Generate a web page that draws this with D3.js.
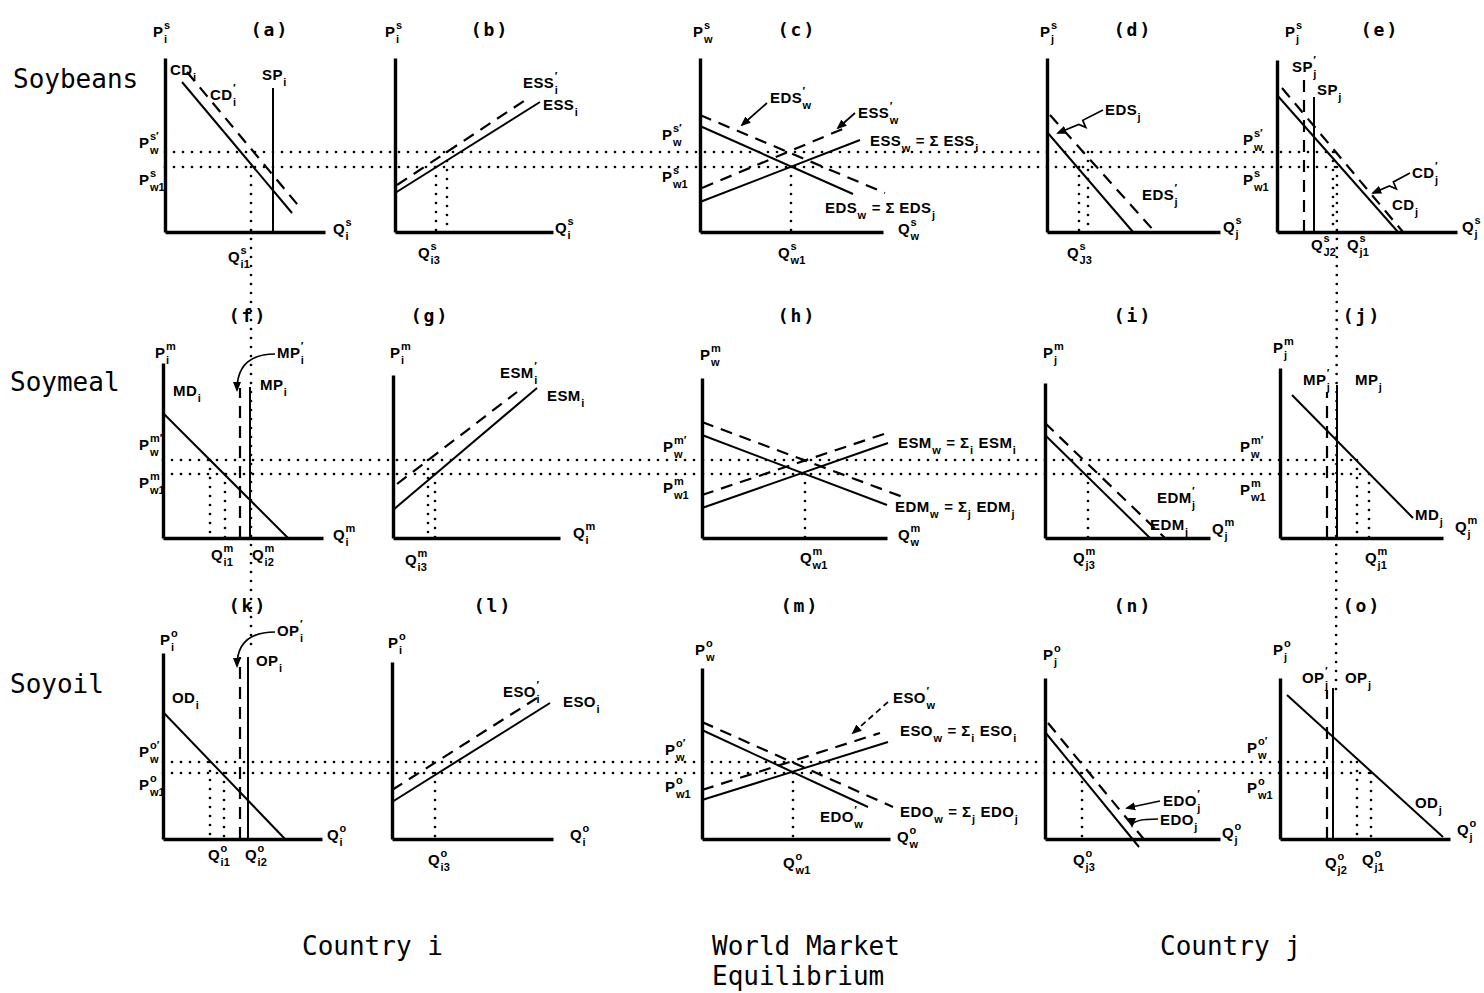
<!DOCTYPE html>
<html><head><meta charset="utf-8">
<script src="https://cdn.jsdelivr.net/npm/d3@7"></script>
<style>
body{margin:0;background:#fff}
svg{display:block;background:#fff}
.lab{font:bold 15px 'Liberation Sans',Arial,sans-serif;white-space:pre;fill:#000;letter-spacing:0.4px}
.scr{font:bold 11px 'Liberation Sans',Arial,sans-serif;fill:#000}
.title{font:bold 18px 'DejaVu Sans Mono',monospace;fill:#000;letter-spacing:2px}
.big{font:26px 'DejaVu Sans Mono',monospace;fill:#000;white-space:pre}
</style></head>
<body>
<svg id="c" width="1484" height="993"></svg>
<script>
// ---------------- DATA (panel units, 1 unit = 2 px) ----------------
const panelIds = ['a','b','c','d','e','f','g','h','i','j','k','l','m','n','o'];
// axis lengths [x, y]
const axisLenA=[80,87], axisLenB=[79,87], axisLenC=[91.5,87], axisLenD=[86.5,87], axisLenE=[90,86];
const axisLenF=[80,87.5], axisLenG=[83.5,81.5], axisLenH=[92.5,80], axisLenI=[82.5,77.5], axisLenJ=[81.5,85];
const axisLenK=[79.5,93], axisLenL=[80.5,88.5], axisLenM=[94,85.5], axisLenN=[87.5,80.5], axisLenO=[85,80.5];

// curves [x1,y1,x2,y2,kind]
const linesA=[[8.5,75,63.5,9.5,'solid'],[11,80,68.5,11,'dashed'],[54,0,54,72,'solid']];
const linesB=[[0,19.5,72.5,65,'solid'],[1,23.5,67.5,67.5,'dashed']];
const linesC=[[0,15,80,46,'solid'],[1,22,72.5,52,'dashed'],[0,53,76.5,19,'solid'],[0,58.5,92.5,19.5,'dashed']];
const linesD=[[0,50,43,0,'solid'],[1.5,58.5,54,0,'dashed']];
const linesE=[[0,68.5,60.5,0,'solid'],[2.5,72,63,0,'dashed'],[18.5,0,18.5,67.5,'solid'],[13.5,0,13.5,76,'dashed']];
const linesF=[[0,62.5,62.5,0,'solid'],[43.5,0,43.5,75.5,'solid'],[38.5,0,38.5,75,'dashed']];
const linesG=[[0,14,72,75,'solid'],[2,27,62,73,'dashed']];
const linesH=[[0,51.5,92.5,16.5,'solid'],[0,58,100.5,20.5,'dashed'],[0,15,93,47.5,'solid'],[0,21.5,92.5,52.5,'dashed']];
const linesI=[[0,51.5,52.5,0,'solid'],[0,57.5,60,0,'dashed']];
const linesJ=[[6,71.5,66.5,10,'solid'],[28.5,0,28.5,76.5,'solid'],[23.5,0,23.5,73,'dashed']];
const linesK=[[0,63.5,61,0,'solid'],[42.5,0,42.5,91,'solid'],[38.5,0,38.5,91,'dashed']];
const linesL=[[0,18.5,79,68,'solid'],[0,24.5,72.5,70.5,'dashed']];
const linesM=[[0,54.5,83,16,'solid'],[0,58.5,95.5,16,'dashed'],[0,19.5,93,48.5,'solid'],[0,24.5,89,53,'dashed']];
const linesN=[[0,53.5,47,-4,'solid'],[1.5,58,51,-2,'dashed']];
const linesO=[[3.5,72,81.5,1,'solid'],[26.5,0,26.5,75.5,'solid'],[23.5,0,23.5,74.5,'dashed']];

// dotted quantity drops [x, yTop]
const dropsA=[], dropsB=[[20.5,32.5],[26,40]], dropsC=[[45.5,32.5]], dropsD=[[16,32.5],[20.5,40]], dropsE=[[28,40]];
const dropsF=[[23.5,39],[31,32]], dropsG=[[17.5,39],[21,32]], dropsH=[[51.5,32]], dropsI=[[21.5,32]], dropsJ=[[38.5,39],[44.5,32]];
const dropsK=[[23.5,38.5],[30.5,33]], dropsL=[[21.5,33]], dropsM=[[45.5,33]], dropsN=[[18.5,33]], dropsO=[[38.5,38.5],[45.5,33]];

// world price levels per row [upper, lower] and their right ends (in right panel units)
const rowPanels=[['a','e'],['f','j'],['k','o']];
const priceLevels=[[40,32.5],[39,32],[38.5,33]];
const priceEnds=[[31.5,31.5],[38.5,44.5],[38.5,45.5]];
// long vertical guides [topPanel, x, y, bottomPanel, x, y]
const longGuides=[['a',43,32.5,'k',44,94.5],['e',30,32.5,'o',28,74.5]];

// labels [x, y, text]
const labelsA=[[-6,97.5,'P^s_i'],[2.5,78.5,'CD_i'],[22.5,66,'CD^′_i'],[48.5,76,'SP_i'],[-13,42,'P^{s′}_w'],[-13,23.5,'P^s_{w1}'],[84,-1,'Q^s_i'],[31.5,-15,'Q^s_{i1}']];
const labelsB=[[-5,97.5,'P^s_i'],[64,72,'ESS^′_i'],[74,61,'ESS_i'],[80,-0.5,'Q^s_i'],[11.5,-13,'Q^s_{i3}']];
const labelsC=[[-3.5,97.5,'P^s_w'],[-19,46,'P^{s′}_w'],[-19,25,'P^s_{w1}'],[35,64.5,'EDS^′_w'],[79,57,'ESS^′_w'],[85,43,'ESS_w = Σ ESS_i'],[62.5,9.5,'EDS_w = Σ EDS_j'],[99,-1,'Q^s_w'],[39,-13,'Q^s_{w1}']];
const labelsD=[[-3.5,97.5,'P^s_j'],[29,58.5,'EDS_j'],[47.5,16,'EDS^′_j'],[88,0,'Q^s_j'],[10,-13,'Q^s_{J3}']];
const labelsE=[[4,97.5,'P^s_j'],[7.5,80,'SP^′_j'],[20,68.5,'SP_j'],[-17,43.5,'P^{s′}_w'],[-17,23.5,'P^s_{w1}'],[67.5,27,'CD^′_j'],[57.5,11,'CD_j'],[92.5,0,'Q^s_j'],[17,-9,'Q^s_{J2}'],[35,-9,'Q^s_{j1}']];
const labelsF=[[-4,90,'P^m_i'],[5,71,'MD_i'],[48.5,74,'MP_i'],[57,90,'MP^′_i'],[-12,44,'P^{m′}_w'],[-12,25,'P^m_{w1}'],[85,-1,'Q^m_i'],[24,-11,'Q^m_{i1}'],[44.5,-11,'Q^m_{i2}']];
const labelsG=[[-1.5,90,'P^m_i'],[53.5,80,'ESM^′_i'],[77,68.5,'ESM_i'],[90,0,'Q^m_i'],[6,-13.5,'Q^m_{i3}']];
const labelsH=[[-1,89,'P^m_w'],[-19.5,43,'P^{m′}_w'],[-19.5,22.5,'P^m_{w1}'],[98,45,'ESM_w = Σ_i ESM_i'],[96.5,13,'EDM_w = Σ_j EDM_j'],[98,-1,'Q^m_w'],[49,-12.5,'Q^m_{w1}']];
const labelsI=[[-1,90,'P^m_j'],[56,17.5,'EDM^′_j'],[52.5,4,'EDM_j'],[83.5,2,'Q^m_j'],[14,-12.5,'Q^m_{j3}']];
const labelsJ=[[-3.5,92.5,'P^m_j'],[11.5,76.5,'MP^′_j'],[37.5,76.5,'MP_j'],[-20,43,'P^{m′}_w'],[-20,21.5,'P^m_{w1}'],[67.5,9,'MD_j'],[87.5,3,'Q^m_j'],[42.5,-12.5,'Q^m_{j1}']];
const labelsK=[[-1.5,97,'P^o_i'],[4.5,68,'OD_i'],[46.5,86.5,'OP_i'],[57,101.5,'OP^′_i'],[-12,41,'P^{o′}_w'],[-12,24.5,'P^o_{w1}'],[82,-0.5,'Q^o_i'],[22.5,-10.5,'Q^o_{i1}'],[41,-10.5,'Q^o_{i2}']];
const labelsL=[[-2,95.5,'P^o_i'],[55.5,71,'ESO^′_i'],[85.5,66,'ESO_i'],[89,-0.5,'Q^o_i'],[18,-13,'Q^o_{i3}']];
const labelsM=[[-3.5,92,'P^o_w'],[-18.5,42,'P^{o′}_w'],[-18.5,23.5,'P^o_{w1}'],[95.5,68,'ESO^′_w'],[99,51.5,'ESO_w = Σ_i ESO_i'],[99,11,'EDO_w = Σ_j EDO_j'],[59,8.5,'EDO^′_w'],[97.5,-1.5,'Q^o_w'],[40.5,-14.5,'Q^o_{w1}']];
const labelsN=[[-1,89.5,'P^o_j'],[59,16.5,'EDO^′_j'],[57.5,7,'EDO_j'],[88.5,0.5,'Q^o_j'],[14,-13,'Q^o_{j3}']];
const labelsO=[[-3.5,92,'P^o_j'],[11,78,'OP^′_j'],[32.5,78,'OP_j'],[-16.5,43,'P^{o′}_w'],[-16.5,23,'P^o_{w1}'],[67.5,15.5,'OD_j'],[88.5,2,'Q^o_j'],[22.5,-14.5,'Q^o_{j2}'],[41,-13,'Q^o_{j1}']];

// pointer arrows [x1,y1,x2,y2,kind]
const pointersC=[[33.5,64.5,21,53.5,'line'],[77.5,59.5,69,52,'line']];
const pointersD=[[28,61,5.5,49.5,'zig']];
const pointersE=[[66.5,29.5,48,19.5,'zig']];
const pointersF=[[56,92,37,74,'curve']];
const pointersK=[[56,103.5,37,86.5,'curve']];
const pointersM=[[93,68.5,75.5,53,'dash']];
const pointersN=[[57.5,19,41,15.5,'line'],[56.5,10,43.5,6.5,'curve']];

const panelTitles=['(a)','(b)','(c)','(d)','(e)','(f)','(g)','(h)','(i)','(j)','(k)','(l)','(m)','(n)','(o)'];
const rowNames=['Soybeans','Soymeal','Soyoil'];
const captions=['Country i','World Market','Equilibrium','Country j'];

// ---------------- LAYOUT ----------------
const U=2;
const panelOrigin={a:[165,232],b:[395,232],c:[700,232],d:[1047,232],e:[1277,232],
  f:[163,538],g:[393,538],h:[702,538],i:[1045,538],j:[1280,538],
  k:[163,839],l:[392,839],m:[702,839],n:[1045,839],o:[1280,839]};
const titlePos=[[270,36],[490,36],[797,36],[1133,36],[1380,36],[248,322],[430,322],[797,322],[1133,322],[1362,322],[248,612],[493,612],[800,612],[1133,612],[1362,612]];
const rowNamePos=[[13,88],[10,391],[10,693]];
const captionPos=[[302,955],[712,955],[712,985],[1160,955]];

const table={
 a:[axisLenA,linesA,dropsA,labelsA,[]], b:[axisLenB,linesB,dropsB,labelsB,[]], c:[axisLenC,linesC,dropsC,labelsC,pointersC],
 d:[axisLenD,linesD,dropsD,labelsD,pointersD], e:[axisLenE,linesE,dropsE,labelsE,pointersE],
 f:[axisLenF,linesF,dropsF,labelsF,pointersF], g:[axisLenG,linesG,dropsG,labelsG,[]], h:[axisLenH,linesH,dropsH,labelsH,[]],
 i:[axisLenI,linesI,dropsI,labelsI,[]], j:[axisLenJ,linesJ,dropsJ,labelsJ,[]],
 k:[axisLenK,linesK,dropsK,labelsK,pointersK], l:[axisLenL,linesL,dropsL,labelsL,[]], m:[axisLenM,linesM,dropsM,labelsM,pointersM],
 n:[axisLenN,linesN,dropsN,labelsN,pointersN], o:[axisLenO,linesO,dropsO,labelsO,[]]
};

function scalesFor(id){
  const [ox,oy]=panelOrigin[id]; const [xl,yl]=table[id][0];
  return {x:d3.scaleLinear().domain([0,xl]).range([ox,ox+xl*U]),
          y:d3.scaleLinear().domain([0,yl]).range([oy,oy-yl*U])};
}

const svg=d3.select('#c');
const defs=svg.append('defs');
defs.append('marker').attr('id','ah').attr('viewBox','0 0 10 10').attr('refX',8).attr('refY',5)
  .attr('markerWidth',6).attr('markerHeight',6).attr('orient','auto')
  .append('path').attr('d','M0,1 L10,5 L0,9 Z').attr('fill','#000');

const dotted={stroke:'#000','stroke-width':2.7,'stroke-dasharray':'0 9','stroke-linecap':'round',fill:'none'};
function applyStyle(sel,st){Object.entries(st).forEach(([k,v])=>sel.attr(k,v));return sel;}

const gGuides=svg.append('g');
const gMarks=svg.append('g');
const gText=svg.append('g');

// world price guides
rowPanels.forEach((rp,r)=>{
  const sL=scalesFor(rp[0]), sR=scalesFor(rp[1]);
  priceLevels[r].forEach((lv,k)=>{
    applyStyle(gGuides.append('line').attr('x1',sL.x(0)).attr('x2',sR.x(priceEnds[r][k]))
      .attr('y1',sL.y(lv)).attr('y2',sL.y(lv)),dotted);
  });
});
longGuides.forEach(g=>{
  const s1=scalesFor(g[0]), s2=scalesFor(g[3]);
  applyStyle(gGuides.append('line').attr('x1',s1.x(g[1])).attr('y1',s1.y(g[2]))
    .attr('x2',s2.x(g[4])).attr('y2',s2.y(g[5])),dotted);
});

// label renderer with stacked sub/superscripts
function parse(s){
  const out=[];let buf='';let i=0;
  while(i<s.length){
    const c=s[i];
    if(c==='^'||c==='_'){
      if(buf){out.push({t:buf});buf='';}
      const grp={};
      while(i<s.length&&(s[i]==='^'||s[i]==='_')){
        const k=s[i]==='^'?'sup':'sub';i++;
        let v;
        if(s[i]==='{'){const j=s.indexOf('}',i);v=s.slice(i+1,j);i=j+1;}else{v=s[i];i++;}
        grp[k]=v;
      }
      out.push(grp);
    }else{buf+=c;i++;}
  }
  if(buf)out.push({t:buf});
  return out;
}
function drawLabel(parent,x,y,str,cls){
  const g=parent.append('g').attr('transform',`translate(${x},${y})`);
  let cx=0;
  parse(str).forEach(tk=>{
    if(tk.t!==undefined){
      const t=g.append('text').attr('class',cls||'lab').attr('x',cx).attr('y',0).text(tk.t);
      cx+=t.node().getComputedTextLength();
    }else{
      let w=0;
      if(tk.sup){const t=g.append('text').attr('class','scr').attr('x',cx+0.5).attr('y',-8.5).text(tk.sup);w=Math.max(w,t.node().getComputedTextLength());}
      if(tk.sub){const t=g.append('text').attr('class','scr').attr('x',cx+0.5).attr('y',6).text(tk.sub);w=Math.max(w,t.node().getComputedTextLength());}
      cx+=w+1.5;
    }
  });
}

panelIds.forEach((id,pi)=>{
  const [axl,lines,drops,labels,pointers]=table[id];
  const s=scalesFor(id);
  const [ox,oy]=panelOrigin[id];
  const line=d3.line().x(d=>s.x(d[0])).y(d=>s.y(d[1]));
  drops.forEach(d=>{
    applyStyle(gGuides.append('path').attr('d',line([[d[0],d[1]],[d[0],0]])),dotted);
  });
  lines.forEach(l=>{
    const p=gMarks.append('path').attr('d',line([[l[0],l[1]],[l[2],l[3]]]))
      .attr('fill','none').attr('stroke','#000');
    if(l[4]==='dashed'){p.attr('stroke-width',2.2).attr('stroke-dasharray','12 8');}
    else{p.attr('stroke-width',2);}
  });
  const ax=gMarks.append('g').attr('transform',`translate(0,${oy})`)
    .call(d3.axisBottom(s.x).tickValues([]).tickSizeOuter(0));
  const ay=gMarks.append('g').attr('transform',`translate(${ox},0)`)
    .call(d3.axisLeft(s.y).tickValues([]).tickSizeOuter(0));
  [ax,ay].forEach(a=>a.select('.domain').attr('stroke','#000').attr('stroke-width',3.4));
  pointers.forEach(p=>{
    const x1=s.x(p[0]),y1=s.y(p[1]),x2=s.x(p[2]),y2=s.y(p[3]);
    const path=d3.path();
    path.moveTo(x1,y1);
    if(p[4]==='curve'){path.quadraticCurveTo(x2,y1,x2,y2);}
    else if(p[4]==='zig'){
      const mx=x1+(x2-x1)*0.45,my=y1+(y2-y1)*0.45;
      path.lineTo(mx,my);path.lineTo(mx+3,my+7);path.lineTo(mx-4,my+4);path.lineTo(x2,y2);
    }else{path.lineTo(x2,y2);}
    const pe=gMarks.append('path').attr('d',path.toString()).attr('fill','none').attr('stroke','#000')
      .attr('stroke-width',1.7).attr('marker-end','url(#ah)');
    if(p[4]==='dash')pe.attr('stroke-dasharray','6 4');
  });
  labels.forEach(l=>drawLabel(gText,s.x(l[0]),s.y(l[1]),l[2]));
  gText.append('text').attr('class','title').attr('x',titlePos[pi][0]).attr('y',titlePos[pi][1])
    .attr('text-anchor','middle').text(panelTitles[pi]);
});

rowNames.forEach((n,i)=>gText.append('text').attr('class','big').attr('x',rowNamePos[i][0]).attr('y',rowNamePos[i][1]).text(n));
captions.forEach((n,i)=>gText.append('text').attr('class','big').attr('x',captionPos[i][0]).attr('y',captionPos[i][1]).text(n));
</script>
</body></html>
